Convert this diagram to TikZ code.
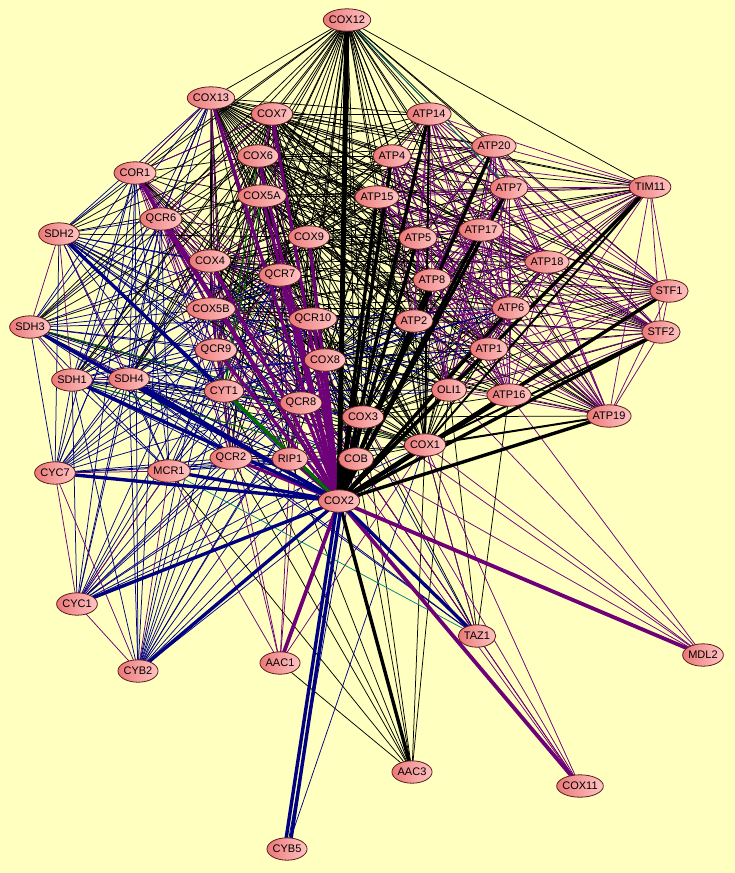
\documentclass[tikz,border=0pt]{standalone}
\usepackage{fontspec}
\newfontfamily\nodefont{Liberation Sans}
\usetikzlibrary{calc}
\pgfdeclarelayer{edges}
\pgfdeclarelayer{disks}
\pgfsetlayers{edges,disks,main}
\definecolor{bgy}{RGB}{255,255,192}
\definecolor{pur}{RGB}{110,0,120}
\definecolor{nav}{RGB}{0,0,128}
\definecolor{grn}{RGB}{0,110,0}
\definecolor{tea}{RGB}{0,128,128}
\definecolor{nodeL}{RGB}{236,120,120}
\definecolor{nodeR}{RGB}{255,196,196}
\definecolor{nodeB}{RGB}{90,30,30}
\newcommand\gn[2]{\node[gene] (#1) at (#2) {#1};}
\newcommand\clique[2]{\foreach \a [count=\i] in #2 {\foreach \b [count=\j] in #2 {\ifnum\j>\i\relax \draw[#1] (\a.center) -- (\b.center);\fi}}}
\newcommand\bicl[3]{\foreach \a in #2 {\foreach \b in #3 {\draw[#1] (\a.center) -- (\b.center);}}}
\newcommand\hubto[3]{\foreach \a in #3 {\draw[#1] (\a.center) -- (#2.center);}}
\def\CIV{COX12,COX13,COX7,COX6,COX5A,COX9,COX4,COX5B,COX8,COX3,COX1,COX2}
\def\CV{ATP14,ATP20,ATP4,ATP7,ATP15,ATP5,ATP17,ATP8,ATP18,ATP2,ATP6,ATP1,OLI1,ATP16,ATP19,TIM11,STF1,STF2}
\def\CIII{COR1,QCR6,QCR7,QCR10,QCR9,CYT1,QCR8,QCR2,RIP1,COB}
\def\SDH{SDH1,SDH2,SDH3,SDH4}
\def\CYCS{CYC7,CYC1,CYB2,MCR1}
\def\ALL{COX12,COX13,COX7,ATP14,ATP20,COX6,ATP4,COR1,TIM11,ATP7,COX5A,ATP15,QCR6,ATP17,SDH2,COX9,ATP5,COX4,ATP18,QCR7,ATP8,STF1,ATP6,COX5B,QCR10,ATP2,SDH3,STF2,ATP1,QCR9,COX8,SDH1,SDH4,CYT1,OLI1,ATP16,QCR8,ATP19,COX3,COX1,QCR2,RIP1,COB,MCR1,CYC7,COX2,CYC1,TAZ1,CYB2,MDL2,AAC1,AAC3,COX11,CYB5}
\begin{document}
\begin{tikzpicture}[x=1pt,y=-1pt,
  gene/.style={inner xsep=5.5pt, inner ysep=0pt, minimum height=22pt, font=\nodefont\fontsize{11}{13}\selectfont},
  genedisk/.style={draw=nodeB, line width=0.8pt, left color=nodeL, right color=nodeR},
  bk/.style={black, line width=0.75pt},
  pu/.style={pur, line width=0.75pt},
  nv/.style={nav, line width=0.75pt},
  gn/.style={grn, line width=0.75pt},
  tl/.style={tea, line width=0.75pt},
  bkT/.style={black, line width=3.4pt},
  puT/.style={pur, line width=3.2pt},
  nvT/.style={nav, line width=3.4pt},
  gnT/.style={grn, line width=3.4pt}]
\useasboundingbox (0,0) rectangle (735,873);
\gn{COX12}{347,20}
\gn{COX13}{211,98}
\gn{COX7}{272,114}
\gn{ATP14}{429,114}
\gn{ATP20}{494,146}
\gn{COX6}{258,156}
\gn{ATP4}{392,156}
\gn{COR1}{135,173}
\gn{TIM11}{650,187}
\gn{ATP7}{509,188}
\gn{COX5A}{262,196}
\gn{ATP15}{377,197}
\gn{QCR6}{161,219}
\gn{ATP17}{481,230}
\gn{SDH2}{59,234}
\gn{COX9}{309,237}
\gn{ATP5}{418,238}
\gn{COX4}{210,261}
\gn{ATP18}{547,262}
\gn{QCR7}{280,275}
\gn{ATP8}{432,280}
\gn{STF1}{669,291}
\gn{ATP6}{511,308}
\gn{COX5B}{211,309}
\gn{QCR10}{313,319}
\gn{ATP2}{414,321}
\gn{SDH3}{30,327}
\gn{STF2}{661,332}
\gn{ATP1}{489,349}
\gn{QCR9}{216,350}
\gn{COX8}{325,360}
\gn{SDH1}{72,380}
\gn{SDH4}{129,379}
\gn{CYT1}{224,391}
\gn{OLI1}{449,390}
\gn{ATP16}{509,395}
\gn{QCR8}{301,403}
\gn{ATP19}{609,416}
\gn{COX3}{363,417}
\gn{COX1}{425,445}
\gn{QCR2}{231,458}
\gn{RIP1}{290,459}
\gn{COB}{356,459}
\gn{MCR1}{169,471}
\gn{CYC7}{55,473}
\gn{COX2}{339,501}
\gn{CYC1}{77,604}
\gn{TAZ1}{477,636}
\gn{CYB2}{138,671}
\gn{MDL2}{703,655}
\gn{AAC1}{280,663}
\gn{AAC3}{412,772}
\gn{COX11}{580,786}
\gn{CYB5}{287,849}
\begin{pgfonlayer}{edges}
\fill[bgy] (0,0) rectangle (735,873);
% thin edges
\clique{bk}{\CIV}
\bicl{bk}{\CIV}{\CV}
\clique{pu}{\CV}
\bicl{bk}{\CIII}{{COX12,COX13,COX7,COX6,COX5A,COX9,COX4,COX5B,COX8,COX3,COX1}}
\clique{pu}{\CIII}
\bicl{pu}{{COX13,COX7,COX4,COX5B}}{{COR1,QCR6,QCR7,QCR9,CYT1,QCR8}}
\bicl{nv}{\SDH}{\CIII}
\bicl{nv}{\SDH}{{COX13,COX4,COX5B,COX8,COX3}}
\bicl{bk}{\SDH}{{COX7,COX6,COX5A,COX9,COX12,COX1}}
\clique{pu}{\SDH}
\bicl{nv}{\CYCS}{\CIII}
\bicl{nv}{{CYC7,MCR1}}{\SDH}
\bicl{nv}{{CYC1,CYB2}}{{SDH1,SDH4}}
\bicl{nv}{{CYC1,CYB2}}{{COX3,COX1,COX8,COX5B}}
\bicl{nv}{{CYC7}}{{COX4,COX5B,COX13}}
\clique{pu}{\CYCS}
\bicl{nv}{{QCR8,COX8,QCR10,CYT1}}{{ATP2,OLI1,ATP6,ATP1}}
\hubto{pu}{AAC1}{{QCR2,RIP1,CYT1,MCR1,COB,QCR8,COX1}}
\hubto{bk}{AAC3}{{AAC1,QCR2,RIP1,COB,COX3,COX1,OLI1,CYT1,MCR1}}
\hubto{bk}{TAZ1}{{COX1,OLI1,ATP16,COX3,COB}}
\hubto{nv}{TAZ1}{{CYT1,QCR2,SDH4,COX8}}
\hubto{pu}{TAZ1}{{COX11,COX1,COB}}
\hubto{pu}{MDL2}{{COX1,COX3,COB,OLI1,ATP16}}
\hubto{pu}{COX11}{{COX1,COX3,COB,QCR8}}
\hubto{nv}{CYB5}{{COX3,COX1}}
\draw[tl] (COX12.center) -- (ATP7.center);
\draw[tl] (MCR1.center) -- (TAZ1.center);
\draw[gn] (SDH3.center) -- (COX3.center);
\draw[gn] (SDH1.center) -- (COB.center);
\draw[gn] (CYT1.center) -- (COX1.center);
\draw[gn] (COX6.center) -- (CYT1.center);
\draw[gn] (COX5A.center) -- (CYT1.center);
% thick edges
\hubto{bk, line width=2pt}{COX1}{{TIM11,STF1,STF2,ATP19,ATP16,ATP14}}
\hubto{puT}{COX2}{{COR1,QCR6,QCR7,QCR10,QCR9,QCR8,COB,RIP1,QCR2,COX13,COX7,COX6,COX5A,COX4,COX9,COX8}}
\hubto{bkT}{COX2}{{ATP14,ATP20,ATP7,TIM11,STF1,STF2,ATP19,ATP16,ATP4,ATP15,ATP5,ATP17,ATP8,ATP2,ATP6,ATP1,OLI1,COX1,COX3,AAC3}}
\draw[black, line width=5pt] (COX12.center) -- (COX2.center);
\hubto{pur, line width=3.8pt}{COX2}{{MDL2,COX11,AAC1}}
\hubto{nvT}{COX2}{{SDH1,SDH2,SDH3,SDH4,CYC7,CYC1,CYB2,MCR1,TAZ1}}
\draw[nvT] ([xshift=-2.5pt]CYB5.center) -- ([xshift=-1.5pt]COX2.center);
\draw[nvT] ([xshift=2.5pt]CYB5.center) -- ([xshift=3pt]COX2.center);
\draw[gnT] (CYT1.center) -- (COX2.center);
\end{pgfonlayer}
\begin{pgfonlayer}{disks}
\foreach \nd in \ALL {
  \path[genedisk] let \p1=(\nd.north east), \p2=(\nd.center) in (\p2) ellipse ({\x1-\x2} and {\y1-\y2});
}
\end{pgfonlayer}
\end{tikzpicture}
\end{document}
